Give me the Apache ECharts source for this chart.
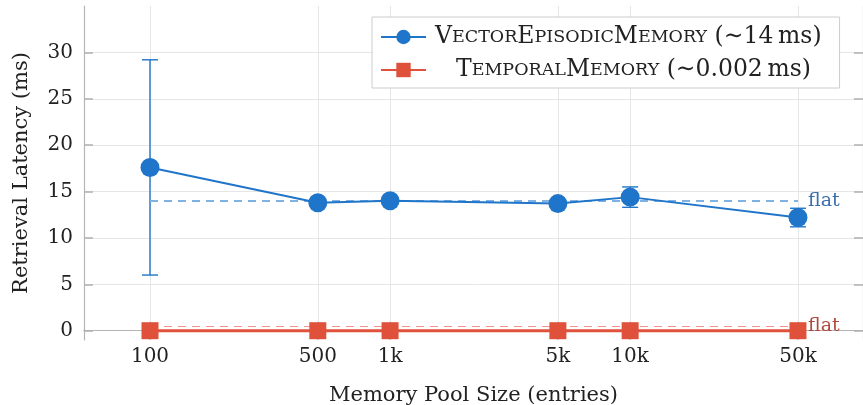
<!DOCTYPE html>
<html>
<head>
<meta charset="utf-8">
<script src="https://cdn.jsdelivr.net/npm/echarts@6/dist/echarts.min.js"></script>
<style>html,body{margin:0;padding:0;background:#fff;}#c{width:863px;height:405px;}</style>
</head>
<body>
<div id="c"></div>
<script>
const poolSizes = [100, 500, 1000, 5000, 10000, 50000];
const vectorMs = [17.6, 13.8, 14.0, 13.7, 14.4, 12.2];
const vectorErr = [11.6, 0.4, 0.4, 0.4, 1.1, 1.0];
const temporalMs = [0.002, 0.002, 0.002, 0.002, 0.002, 0.002];
const vectorFlat = 14.0;
const temporalFlat = 0.5;
const xTickValues = [100, 500, 1000, 5000, 10000, 50000];
const xTickLabels = ['100', '500', '1k', '5k', '10k', '50k'];
const yTickValues = [0, 5, 10, 15, 20, 25, 30];

const BLUE = '#1f75c9';
const BLUE_LIGHT = '#7fb1e3';
const RED = '#e0513b';
const RED_LIGHT = '#f0958a';
const FONT = 'DejaVu Serif';

const nameVec = 'VectorEpisodicMemory (~14 ms)';
const nameTmp = 'TemporalMemory (~0.002 ms)';

const chart = echarts.init(document.getElementById('c'), null, {renderer: 'canvas'});

const xFmt = v => {
  const i = xTickValues.indexOf(Math.round(v));
  return i >= 0 ? xTickLabels[i] : '';
};

const frameAxisX = (pos, showLabel) => ({
  type: 'log', logBase: 10, min: 53.1, max: 93300, position: pos,
  axisLine: {show: true, lineStyle: {color: '#b5b5b5', width: 1.2}},
  axisTick: {show: true, inside: true, length: 9, customValues: xTickValues, lineStyle: {color: '#b0b0b0', width: 1.5}},
  axisLabel: {show: showLabel, customValues: xTickValues, formatter: xFmt, fontFamily: FONT, fontSize: 20, color: '#222', margin: 7},
  splitLine: {show: showLabel, lineStyle: {color: '#e6e6e6', width: 1}},
  minorTick: {show: false}, minorSplitLine: {show: false}
});
const frameAxisY = (pos, showLabel) => ({
  type: 'value', min: -1, max: 35, position: pos,
  axisLine: {show: true, lineStyle: {color: '#b5b5b5', width: 1.2}},
  axisTick: {show: true, inside: true, length: 9, customValues: yTickValues, lineStyle: {color: '#b0b0b0', width: 1.5}},
  axisLabel: {show: showLabel, customValues: yTickValues, fontFamily: FONT, fontSize: 20, color: '#222', margin: 11},
  splitLine: {show: showLabel, lineStyle: {color: '#e6e6e6', width: 1}}
});

const xBottom = frameAxisX('bottom', true);
xBottom.name = 'Memory Pool Size (entries)';
xBottom.nameLocation = 'middle';
xBottom.nameGap = 45;
xBottom.nameTextStyle = {fontFamily: FONT, fontSize: 21, color: '#222'};
const yLeft = frameAxisY('left', true);
yLeft.name = 'Retrieval Latency (ms)';
yLeft.nameLocation = 'middle';
yLeft.nameGap = 52;
yLeft.nameTextStyle = {fontFamily: FONT, fontSize: 21, color: '#222'};

const rich = {
  a: {fontFamily: FONT, fontSize: 23.5, color: '#222', lineHeight: 26},
  b: {fontFamily: FONT, fontSize: 17.5, color: '#222', lineHeight: 26},
  p1: {width: 4},
  p2: {width: 25}
};

option = {
  animation: false,
  backgroundColor: '#fff',
  grid: {left: 84, right: 0, top: 6, bottom: 65, outerBoundsMode: 'none', containLabel: false},
  xAxis: [xBottom, frameAxisX('top', false)],
  yAxis: [yLeft, frameAxisY('right', false)],
  legend: {
    orient: 'vertical', left: 372, top: 17,
    padding: [8, 18, 6, 8], itemGap: 9,
    itemWidth: 45, itemHeight: 18,
    borderColor: '#cccccc', borderWidth: 1, backgroundColor: '#fff',
    data: [nameVec, nameTmp],
    formatter: n => n === nameVec
      ? '{p1| }{a|V}{b|ECTOR}{a|E}{b|PISODIC}{a|M}{b|EMORY}{a| (\u223c14\u2009ms)}'
      : '{p2| }{a|T}{b|EMPORAL}{a|M}{b|EMORY}{a| (\u223c0.002\u2009ms)}',
    textStyle: {rich: rich}
  },
  series: [
    {
      name: nameVec, type: 'line',
      data: poolSizes.map((s, i) => [s, vectorMs[i]]),
      symbol: 'circle', symbolSize: 19, z: 5,
      itemStyle: {color: BLUE},
      lineStyle: {color: BLUE, width: 2},
      markLine: {
        silent: true, symbol: 'none',
        lineStyle: {color: BLUE_LIGHT, type: [8, 6], width: 2},
        label: {show: true, position: 'end', formatter: 'flat', color: '#3a6fae', fontFamily: FONT, fontSize: 19, distance: 10},
        data: [[{coord: [poolSizes[0], vectorFlat]}, {coord: [poolSizes[poolSizes.length - 1], vectorFlat]}]]
      }
    },
    {
      name: 'vecErr', type: 'custom', z: 3,
      data: poolSizes.map((s, i) => [s, vectorMs[i] - vectorErr[i], vectorMs[i] + vectorErr[i]]),
      renderItem: (params, api) => {
        const lo = api.coord([api.value(0), api.value(1)]);
        const hi = api.coord([api.value(0), api.value(2)]);
        const w = 8;
        const st = {stroke: BLUE, lineWidth: 1.4};
        return {type: 'group', children: [
          {type: 'line', shape: {x1: lo[0], y1: lo[1], x2: hi[0], y2: hi[1]}, style: st},
          {type: 'line', shape: {x1: lo[0] - w, y1: lo[1], x2: lo[0] + w, y2: lo[1]}, style: st},
          {type: 'line', shape: {x1: hi[0] - w, y1: hi[1], x2: hi[0] + w, y2: hi[1]}, style: st}
        ]};
      },
      encode: {x: 0, y: [1, 2]},
      silent: true
    },
    {
      name: nameTmp, type: 'line',
      data: poolSizes.map((s, i) => [s, temporalMs[i]]),
      symbol: 'rect', symbolSize: 17, z: 5,
      itemStyle: {color: RED},
      lineStyle: {color: RED, width: 3},
      markLine: {
        silent: true, symbol: 'none',
        lineStyle: {color: RED_LIGHT, type: [8, 6], width: 1.2},
        label: {show: true, position: 'end', formatter: 'flat', color: '#b04a3e', fontFamily: FONT, fontSize: 19, distance: 10},
        data: [[{coord: [poolSizes[0], temporalFlat]}, {coord: [poolSizes[poolSizes.length - 1], temporalFlat]}]]
      }
    }
  ]
};
chart.setOption(option);
</script>
</body>
</html>
